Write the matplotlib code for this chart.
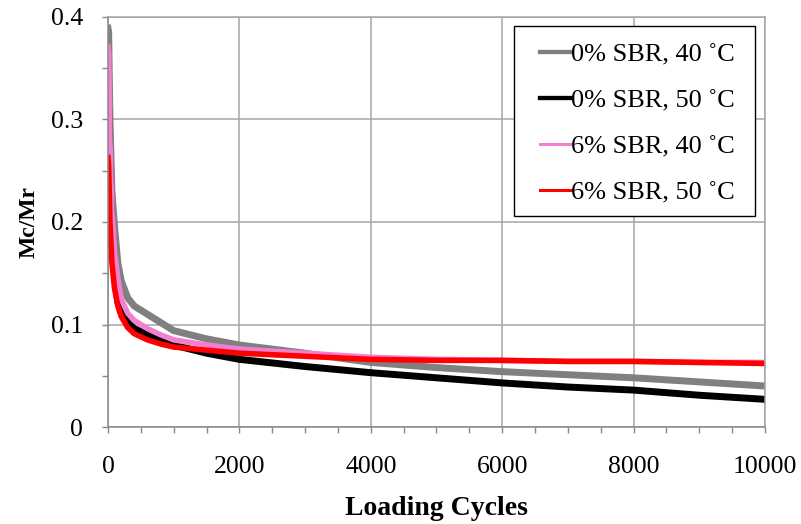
import matplotlib
matplotlib.use("Agg")
import matplotlib.pyplot as plt
import matplotlib.ticker as mticker
from matplotlib.lines import Line2D
from matplotlib.patches import Rectangle

plt.rcParams['font.family'] = ['Liberation Serif', 'DejaVu Serif']

# loading cycles at which the curves are sampled
cycles = [0, 10, 30, 60, 100, 150, 200, 300, 400, 600, 800, 1000, 1500, 2000,
          3000, 4000, 5000, 6000, 7000, 8000, 9000, 10000]

sbr0_40 = [0.389, 0.385, 0.300, 0.230, 0.195, 0.160, 0.143, 0.126, 0.118, 0.110,
           0.102, 0.094, 0.086, 0.080, 0.072, 0.063, 0.058, 0.054, 0.051, 0.048,
           0.044, 0.040]
sbr0_50 = [0.321, 0.310, 0.240, 0.180, 0.150, 0.122, 0.112, 0.102, 0.096, 0.090,
           0.086, 0.080, 0.072, 0.066, 0.059, 0.053, 0.048, 0.043, 0.039, 0.036,
           0.031, 0.027]
sbr6_40 = [0.371, 0.365, 0.280, 0.210, 0.170, 0.145, 0.125, 0.111, 0.104, 0.096,
           0.090, 0.085, 0.080, 0.076, 0.072, 0.068, 0.066, 0.065, 0.064, 0.064,
           0.063, 0.063]
sbr6_50 = [0.263, 0.255, 0.200, 0.160, 0.135, 0.118, 0.108, 0.097, 0.091, 0.085,
           0.081, 0.078, 0.075, 0.072, 0.069, 0.066, 0.065, 0.065, 0.064, 0.064,
           0.063, 0.062]

labels = ["0% SBR, 40 \u02daC", "0% SBR, 50 \u02daC",
          "6% SBR, 40 \u02daC", "6% SBR, 50 \u02daC"]
colors = ["#808080", "#000000", "#f47fd0", "#ff0000"]
widths = [5.0, 5.0, 4.0, 4.0]
legend_widths = [3.1, 3.1, 2.2, 2.2]

fig = plt.figure(figsize=(8.01, 5.24), dpi=100)
ax = fig.add_axes([0.1348, 0.1851, 0.8202, 0.7825])

for ys, c, lw in zip([sbr0_40, sbr0_50, sbr6_40, sbr6_50], colors, widths):
    ax.plot(cycles, ys, color=c, linewidth=lw, solid_joinstyle="round")

ax.set_xlim(0, 10000)
ax.set_ylim(0, 0.4)
ax.xaxis.set_major_locator(mticker.MultipleLocator(2000))
ax.xaxis.set_minor_locator(mticker.MultipleLocator(500))
ax.yaxis.set_major_locator(mticker.MultipleLocator(0.1))
ax.yaxis.set_minor_locator(mticker.MultipleLocator(0.05))
ax.yaxis.set_major_formatter(mticker.FuncFormatter(lambda v, _: "0" if v == 0 else f"{v:.1f}"))

grid_col = "#a6a6a6"
ax.grid(True, which="major", color=grid_col, linewidth=1.1)
ax.set_axisbelow(True)
for s in ax.spines.values():
    s.set_color(grid_col)
    s.set_linewidth(1.1)
ax.spines["left"].set_color("#888888")
ax.spines["bottom"].set_color("#888888")

ax.tick_params(which="both", direction="out", length=4, width=1, color="#888888",
               labelsize=18.5)
ax.tick_params(axis="x", which="both", pad=17)
ax.tick_params(axis="y", which="both", pad=14)
ax.tick_params(which="both", top=False, right=False)

ax.set_xlabel("Loading Cycles", fontsize=20, fontweight="bold", labelpad=13)
ax.set_ylabel("Mc/Mr", fontsize=17, fontweight="bold", labelpad=8)

# legend entries without a frame, box drawn separately
handles = [Line2D([], [], color=c, linewidth=lw) for c, lw in zip(colors, legend_widths)]
leg = ax.legend(handles, labels, loc="upper left", bbox_to_anchor=(0.641, 0.962),
                fontsize=19, frameon=False, handlelength=1.2, handletextpad=0.0,
                labelspacing=0.85, borderpad=0.4, borderaxespad=0)
ax.add_patch(Rectangle((0.618, 0.515), 0.367, 0.463, transform=ax.transAxes,
                       facecolor="white", edgecolor="black", linewidth=1.0,
                       zorder=4.5))

fig.savefig("out.png", dpi=100)
